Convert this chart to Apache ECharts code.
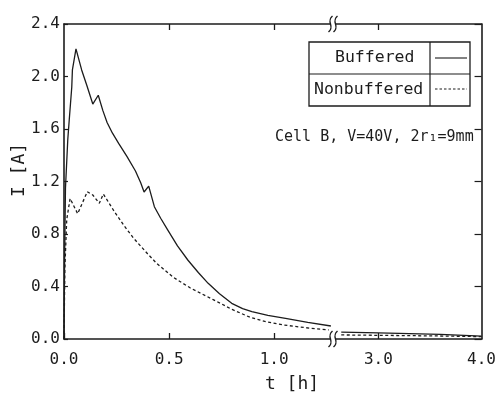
<!DOCTYPE html>
<html>
<head>
<meta charset="utf-8">
<script src="https://cdn.jsdelivr.net/npm/echarts@6/dist/echarts.min.js"></script>
<style>
  html, body { margin: 0; padding: 0; background: #fff; }
  #chart { width: 499px; height: 397px; }
</style>
</head>
<body>
<div id="chart"></div>
<script>
// Current I [A] versus time t [h]; the time axis is broken between ~1.3 h and ~2.6 h.
const bufferedEarly = [
  [0, 0], [0.003, 0.6], [0.007, 1.15], [0.018, 1.52], [0.025, 1.67], [0.037, 1.92],
  [0.04, 2.05], [0.057, 2.21], [0.084, 2.05], [0.108, 1.935], [0.137, 1.79],
  [0.163, 1.857], [0.185, 1.74], [0.205, 1.65], [0.23, 1.57], [0.26, 1.49],
  [0.3, 1.39], [0.34, 1.28], [0.365, 1.19], [0.381, 1.12], [0.403, 1.165],
  [0.43, 1.008], [0.46, 0.92], [0.494, 0.83], [0.54, 0.71], [0.59, 0.60],
  [0.64, 0.505], [0.686, 0.424], [0.74, 0.345], [0.798, 0.272], [0.85, 0.232],
  [0.894, 0.208], [0.97, 0.18], [1.054, 0.157], [1.16, 0.127], [1.27, 0.099]
];
const nonbufferedEarly = [
  [0, 0], [0.004, 0.53], [0.013, 0.91], [0.029, 1.07], [0.065, 0.955], [0.111, 1.122],
  [0.137, 1.097], [0.168, 1.034], [0.187, 1.105], [0.24, 0.97], [0.285, 0.865],
  [0.33, 0.77], [0.4, 0.645], [0.44, 0.578], [0.52, 0.47], [0.6, 0.39], [0.71, 0.30],
  [0.8, 0.225], [0.886, 0.165], [0.96, 0.132], [1.044, 0.107], [1.15, 0.086],
  [1.26, 0.069]
];
const bufferedLate = [[2.64, 0.053], [3.0, 0.047], [3.6, 0.036], [4.0, 0.022]];
const nonbufferedLate = [[2.64, 0.031], [3.0, 0.028], [3.6, 0.023], [4.0, 0.018]];

const yTicks = [0, 0.4, 0.8, 1.2, 1.6, 2.0, 2.4];
const xTicksEarly = [0, 0.5, 1.0];
const xTicksLate = [3.0, 4.0];
const seriesNames = ['Buffered', 'Nonbuffered'];
const noteText = 'Cell B, V=40V, 2r\u2081=9mm';

const FONT = '"DejaVu Sans Mono", "Liberation Mono", monospace';
const INK = '#1c1c1c';
const fmt = v => Number(v).toFixed(1);

const axisLine = { show: true, lineStyle: { color: INK, width: 1.6 } };
const hiddenLabel = { show: false };
const labelStyle = { color: INK, fontFamily: FONT, fontSize: 16, formatter: fmt };

function xAxisCfg(grid, min, max, position, tickVals, labelVals) {
  return {
    type: 'value', gridIndex: grid, min: min, max: max, position: position,
    axisLine: axisLine,
    axisTick: { show: true, inside: true, length: 6, lineStyle: { color: INK, width: 1.3 }, customValues: tickVals },
    axisLabel: labelVals ? Object.assign({ customValues: labelVals, margin: 13 }, labelStyle) : hiddenLabel,
    splitLine: { show: false }
  };
}

const solidStyle = { color: INK, width: 1.3, type: 'solid' };
const dashStyle = { color: INK, width: 1.3, type: [3, 2.5] };
function lineSeries(name, data, x, y, style) {
  return { name: name, type: 'line', xAxisIndex: x, yAxisIndex: y, data: data,
    showSymbol: false, symbol: 'none', lineStyle: style, animation: false, z: 3 };
}

// short wavy "≈" break mark on an axis line
function breakMark(x, y) {
  const w = c => ({ type: 'bezierCurve',
    shape: { x1: c + 2, y1: y - 8, x2: c - 2, y2: y + 8, cpx1: c - 5, cpy1: y - 2, cpx2: c + 5, cpy2: y + 2 },
    style: { stroke: INK, lineWidth: 1.4, fill: null }, z: 10 });
  return [
    { type: 'rect', shape: { x: x - 2, y: y - 2, width: 5, height: 4 }, style: { fill: '#fff' }, z: 9 },
    w(x - 2.5), w(x + 2.5)
  ];
}

const legendBox = [
  { type: 'rect', shape: { x: 309, y: 42, width: 161, height: 64 }, style: { fill: null, stroke: INK, lineWidth: 1.3 } },
  { type: 'line', shape: { x1: 309, y1: 74, x2: 470, y2: 74 }, style: { stroke: INK, lineWidth: 1.2 } },
  { type: 'line', shape: { x1: 430, y1: 42, x2: 430, y2: 106 }, style: { stroke: INK, lineWidth: 1.2 } },
  { type: 'text', x: 335, y: 58, style: { text: seriesNames[0], font: '16.5px ' + FONT, fill: INK, textVerticalAlign: 'middle' } },
  { type: 'text', x: 314, y: 90, style: { text: seriesNames[1], font: '16.5px ' + FONT, fill: INK, textVerticalAlign: 'middle' } },
  { type: 'line', shape: { x1: 435, y1: 58, x2: 467, y2: 58 }, style: { stroke: INK, lineWidth: 1.1 } },
  { type: 'line', shape: { x1: 435, y1: 89, x2: 467, y2: 89 }, style: { stroke: INK, lineWidth: 1.1, lineDash: [2.5, 2] } },
  { type: 'text', x: 275, y: 137, style: { text: noteText, font: '15px ' + FONT, fill: INK, textVerticalAlign: 'middle' } },
  { type: 'text', x: 292, y: 384, style: { text: 't [h]', font: '18px ' + FONT, fill: INK, textAlign: 'center', textVerticalAlign: 'middle' } },
  { type: 'text', x: 19, y: 170, rotation: Math.PI / 2, style: { text: 'I [A]', font: '18px ' + FONT, fill: INK, textAlign: 'center', textVerticalAlign: 'middle' } }
];

const chart = echarts.init(document.getElementById('chart'), null, { renderer: 'canvas' });
chart.setOption({
  backgroundColor: '#fff',
  animation: false,
  grid: [
    { left: 64, top: 24, width: 269, height: 315 },
    { left: 333, top: 24, width: 154, height: 315 }
  ],
  xAxis: [
    xAxisCfg(0, 0, 1.28, 'bottom', xTicksEarly, xTicksEarly),
    xAxisCfg(0, 0, 1.28, 'top', [0.5, 1.0], null),
    xAxisCfg(1, 2.56, 4.0, 'bottom', [3.0], xTicksLate),
    xAxisCfg(1, 2.56, 4.0, 'top', [3.0], null)
  ],
  yAxis: [
    { type: 'value', gridIndex: 0, min: 0, max: 2.4, interval: 0.4, position: 'left',
      axisLine: axisLine,
      axisTick: { show: true, inside: true, length: 4, lineStyle: { color: INK, width: 1.2 }, customValues: yTicks },
      axisLabel: Object.assign({ customValues: yTicks, margin: 4 }, labelStyle),
      splitLine: { show: false } },
    { type: 'value', gridIndex: 1, min: 0, max: 2.4, interval: 0.4, position: 'right',
      axisLine: axisLine,
      axisTick: { show: true, inside: true, length: 7, lineStyle: { color: INK, width: 1.2 }, customValues: yTicks },
      axisLabel: hiddenLabel, splitLine: { show: false } }
  ],
  series: [
    lineSeries(seriesNames[0], bufferedEarly, 0, 0, solidStyle),
    lineSeries(seriesNames[1], nonbufferedEarly, 0, 0, dashStyle),
    lineSeries(seriesNames[0], bufferedLate, 2, 1, solidStyle),
    lineSeries(seriesNames[1], nonbufferedLate, 2, 1, dashStyle)
  ],
  graphic: legendBox.concat(breakMark(333, 24), breakMark(333, 339))
});
</script>
</body>
</html>
